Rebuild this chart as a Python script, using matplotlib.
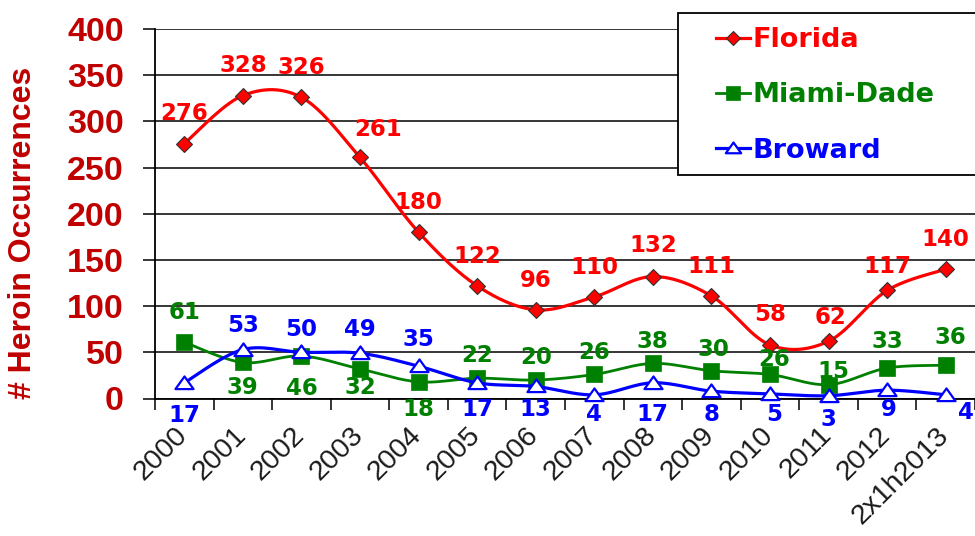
import numpy as np
import matplotlib
matplotlib.use('Agg')
import matplotlib.pyplot as plt
from matplotlib.patches import Rectangle
from matplotlib.path import Path
import matplotlib.transforms as mtrans

# ---------------- data ----------------
years = ['2000', '2001', '2002', '2003', '2004', '2005', '2006', '2007',
         '2008', '2009', '2010', '2011', '2012', '2x1h2013']
florida = [276, 328, 326, 261, 180, 122, 96, 110, 132, 111, 58, 62, 117, 140]
miami_dade = [61, 39, 46, 32, 18, 22, 20, 26, 38, 30, 26, 15, 33, 36]
broward = [17, 53, 50, 49, 35, 17, 13, 4, 17, 8, 5, 3, 9, 4]
y_ticks = [0, 50, 100, 150, 200, 250, 300, 350, 400]

# label offsets (pixels) - style only
fl_off = [(0, 30), (0, 30), (0, 30), (18, 28), (0, 30), (0, 29), (0, 29), (0, 29),
          (0, 31), (0, 29), (0, 30), (2, 24), (0, 24), (0, 30)]
md_off = [(0, 30), (0, -25), (0, -32), (0, -19), (0, -28), (0, 23), (0, 23), (0, 22),
          (0, 22), (2, 21), (4, 15), (5, 13), (0, 27), (5, 28)]
bw_off = [(0, -33), (0, 24), (0, 23), (0, 24), (0, 27), (0, -27), (0, -23), (0, -20),
          (0, -32), (0, -23), (4, -21), (0, -24), (2, -19), (20, -18)]

RED = '#FF0000'
GREEN = '#008000'
BLUE = '#0000FF'
DARKRED = '#C00000'
ARIAL = 'Liberation Sans'
WIDE = 'DejaVu Sans'


def smooth(xs, ys, n=30):
    """Excel-like smoothed line: cubic Bezier through points (Catmull-Rom tangents)."""
    xs = np.asarray(xs, float)
    ys = np.asarray(ys, float)
    P = np.column_stack([xs, ys])
    m = len(P)
    out = []
    for i in range(m - 1):
        p0 = P[i - 1] if i > 0 else P[i]
        p1 = P[i]
        p2 = P[i + 1]
        p3 = P[i + 2] if i + 2 < m else P[i + 1]
        c1 = p1 + (p2 - p0) / 6.0
        c2 = p2 - (p3 - p1) / 6.0
        t = np.linspace(0, 1, n)[:, None]
        seg = ((1 - t) ** 3) * p1 + 3 * ((1 - t) ** 2) * t * c1 + 3 * (1 - t) * t ** 2 * c2 + t ** 3 * p2
        if i > 0:
            seg = seg[1:]
        out.append(seg)
    out = np.vstack(out)
    return out[:, 0], out[:, 1]


W, H = 975, 536
fig = plt.figure(figsize=(W / 100, H / 100), dpi=100)
ax = fig.add_axes([155 / W, 1 - 398.5 / H, (975 - 155) / W, (398.5 - 29) / H])

x = np.arange(len(years))
tri = Path([(-1, -0.62), (1, -0.62), (0, 0.78), (-1, -0.62)],
           [Path.MOVETO, Path.LINETO, Path.LINETO, Path.CLOSEPOLY])

series = [
    (florida, RED, 'Florida', dict(marker='D', ms=8.5, mfc=RED, mec='#333333', mew=0.8), 2.3, fl_off),
    (miami_dade, GREEN, 'Miami-Dade', dict(marker='s', ms=12, mfc=GREEN, mec=GREEN, mew=0.5), 2.0, md_off),
    (broward, BLUE, 'Broward', dict(marker=tri, ms=13, mfc='white', mec=BLUE, mew=1.6), 2.3, bw_off),
]

handles = []
for k, (vals, col, name, mk, lw, offs) in enumerate(series):
    sx, sy = smooth(x, vals)
    ax.plot(sx, sy, color=col, lw=lw, zorder=3 + k, solid_capstyle='round', clip_on=False)
    ax.plot(x, vals, ls='none', zorder=3.5 + k, clip_on=False, **mk)
    for xi, v, (dx, dy) in zip(x, vals, offs):
        ax.annotate(str(v), (xi, v), xytext=(dx, dy), textcoords='offset pixels',
                    ha='center', va='center', color=col, fontsize=16.5,
                    fontweight='bold', family=WIDE, zorder=10, annotation_clip=False)
    lmk = dict(mk)
    lmk['ms'] = mk['ms'] * 0.85
    h, = plt.plot([], [], color=col, lw=lw, **lmk)
    handles.append(h)

ax.set_xlim(-0.5, len(years) - 0.5)
ax.set_ylim(0, 400)

# y axis
ax.set_yticks(y_ticks)
ax.set_yticklabels([str(t) for t in y_ticks], color=DARKRED, fontsize=24.5,
                   fontweight='bold', family=ARIAL)
ax.tick_params(axis='y', direction='out', length=8.5, width=1.1, color='black', pad=14)
ax.grid(axis='y', color='black', lw=1.1, zorder=1)
ax.set_axisbelow(True)

# x axis: ticks at boundaries, labels at centres
ax.set_xticks(np.arange(-0.5, len(years), 1.0))
ax.set_xticklabels([])
ax.tick_params(axis='x', which='major', direction='out', length=8, width=1.1, color='black')
ax.set_xticks(x, minor=True)
ax.set_xticklabels(years, minor=True, rotation=45, ha='right', va='top',
                   rotation_mode='anchor', fontsize=20.5, family=ARIAL, color='#1a1a1a')
ax.tick_params(axis='x', which='minor', length=0, pad=17)
off = mtrans.ScaledTranslation(-10 / 100, 0, fig.dpi_scale_trans)
for lab in ax.get_xticklabels(minor=True):
    lab.set_transform(lab.get_transform() + off)

for s in ['top', 'right']:
    ax.spines[s].set_visible(False)
for s in ['left', 'bottom']:
    ax.spines[s].set_color('black')
    ax.spines[s].set_linewidth(1.3)

# y label
fig.text(23 / W, 1 - 233 / H, '# Heroin Occurrences', rotation=90, ha='center', va='center',
         fontsize=23, fontweight='bold', color=DARKRED, family=ARIAL)

# legend box
fig.patches.append(Rectangle((678 / W, 1 - 175 / H), 320 / W, 162 / H, transform=fig.transFigure,
                             facecolor='white', edgecolor='black', lw=1.3, zorder=1))
leg = fig.legend(handles, [s[2] for s in series], loc='upper left',
                 bbox_to_anchor=(716 / W, 1 - 27 / H), bbox_transform=fig.transFigure,
                 frameon=False, borderpad=0, borderaxespad=0, handlelength=1.25,
                 handletextpad=0.1, labelspacing=1.08,
                 prop=dict(family=WIDE, weight='bold', size=19.5))
for t, s in zip(leg.get_texts(), series):
    t.set_color(s[1])
leg.set_zorder(5)

fig.savefig('out.png', dpi=100)
